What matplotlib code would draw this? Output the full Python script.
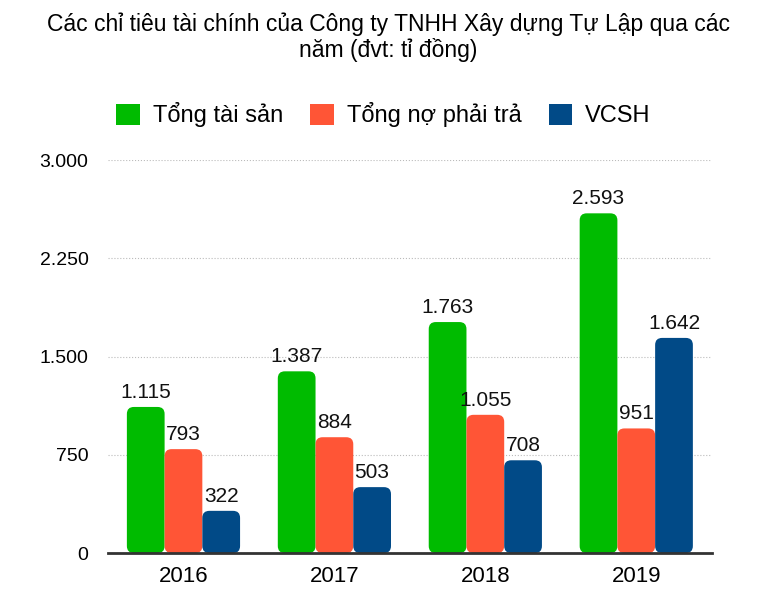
import numpy as np
import matplotlib.pyplot as plt
from matplotlib.patches import FancyBboxPatch, Patch

plt.rcParams['font.family'] = ['Liberation Sans', 'DejaVu Sans']

# data
years = ['2016', '2017', '2018', '2019']
tong_tai_san = [1115, 1387, 1763, 2593]
tong_no = [793, 884, 1055, 951]
vcsh = [322, 503, 708, 1642]
series_names = ['Tổng tài sản', 'Tổng nợ phải trả', 'VCSH']
colors = ['#00BB00', '#FF5536', '#014A87']
yticks = [0, 750, 1500, 2250, 3000]


def fmt(v):
    return '{:,}'.format(int(v)).replace(',', '.')


fig = plt.figure(figsize=(7.77, 6.10), dpi=100)
ax = fig.add_axes([0.139, 0.0934, 0.777, 0.6443])

x = np.arange(len(years))
w = 0.25
ymax = 3000
# pixels per data unit (for round corners)
px_x = 0.777 * 777 / 4.0
px_y = 0.6443 * 610 / ymax
aspect = px_x / px_y
r = 7.0 / px_x

all_series = [tong_tai_san, tong_no, vcsh]
for i, vals in enumerate(all_series):
    for j, v in enumerate(vals):
        x0 = x[j] + (i - 1) * w - w / 2
        box = FancyBboxPatch((x0, 0), w, v,
                             boxstyle='round,pad=0,rounding_size=%f' % r,
                             mutation_aspect=aspect,
                             facecolor=colors[i], edgecolor='none')
        ax.add_patch(box)
        ax.text(x[j] + (i - 1) * w, v + 40, fmt(v), ha='center', va='bottom',
                fontsize=15, color='#111111')

ax.set_xlim(-0.5, 3.5)
ax.set_ylim(0, ymax)
ax.set_xticks(x)
ax.set_xticklabels(years, fontsize=16)
ax.set_yticks(yticks)
ax.set_yticklabels([fmt(t) for t in yticks], fontsize=14)
ax.tick_params(length=0)
ax.tick_params(axis='x', pad=9)
ax.tick_params(axis='y', pad=14)
ax.grid(axis='y', linestyle=':', color='#BBBBBB', linewidth=0.8)
ax.set_axisbelow(True)
for s in ['top', 'right', 'left']:
    ax.spines[s].set_visible(False)
ax.spines['bottom'].set_color('#333333')
ax.spines['bottom'].set_linewidth(2)
ax.spines['bottom'].set_zorder(5)

fig.text(0.5, 0.98, 'Các chỉ tiêu tài chính của Công ty TNHH Xây dựng Tự Lập qua các\nnăm (đvt: tỉ đồng)',
         ha='center', va='top', fontsize=16.5, linespacing=1.12)

handles = [Patch(facecolor=c, edgecolor='none') for c in colors]
fig.legend(handles, series_names, loc='center', bbox_to_anchor=(0.4935, 0.812),
           ncol=3, frameon=False, fontsize=17, handlelength=1.0, handleheight=1.0,
           columnspacing=1.15, handletextpad=0.55)

fig.savefig('out.png', dpi=100)
